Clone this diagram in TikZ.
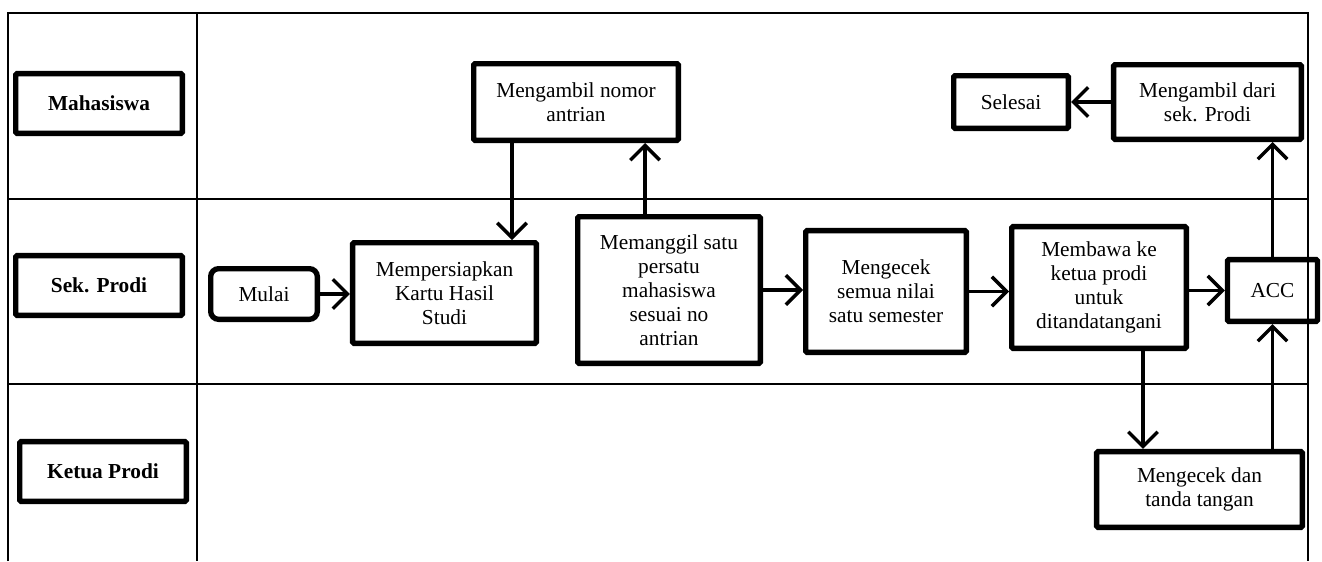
\documentclass[tikz,border=0pt]{standalone}
\usepackage{fontspec}
\setmainfont{Liberation Serif}
\usetikzlibrary{arrows.meta,positioning}

\begin{document}
\begin{tikzpicture}[x=0.75pt,y=-0.75pt,line width=2.6pt,>={Straight Barb[length=11pt,width=22pt]}]
    \tikzstyle{every node}=[font=\fontsize{16}{18}\selectfont]
    \tikzstyle{lane}=[draw,line width=4pt,rounded corners=1pt,inner sep=0pt,font=\bfseries\fontsize{16}{18}\selectfont,minimum width=125pt,minimum height=44.8pt]
    \tikzstyle{act}=[draw,line width=4pt,rounded corners=1pt,inner sep=0pt,align=center]
    \tikzstyle{frame}=[line width=1.7pt]

    \useasboundingbox (0,0) rectangle (1322,561);
    % swimlanes
    \draw[frame] (8,561) -- (8,13) -- (1308,13) -- (1308,561);
    \draw[frame] (197,13) -- (197,561);
    \draw[frame] (8,199) -- (1308,199) (8,384) -- (1308,384);

    \node[lane] (mhs)     at (99,103.5)  {Mahasiswa};
    \node[lane] (sek)     at (99,285.5)  {Sek. Prodi};
    \node[lane] (kaprodi) at (103,471.5) {Ketua Prodi};

    \node[act,rounded corners=6pt,minimum width=80pt,minimum height=38pt] (mulai) at (264,294) {Mulai};
    \node[act,minimum width=137.8pt,minimum height=75.5pt] (siap) at (444.5,293) {Mempersiapkan\\Kartu Hasil\\Studi};
    \node[act,minimum width=153.5pt,minimum height=57.5pt] (nomor) at (576,102) {Mengambil nomor\\antrian};
    \node[act,minimum width=137pt,minimum height=110pt] (panggil) at (669,290) {Memanggil satu\\persatu\\mahasiswa\\sesuai no\\antrian};
    \node[act,minimum width=120.5pt,minimum height=91.3pt] (cek) at (886,291.5) {Mengecek\\semua nilai\\satu semester};
    \node[act,minimum width=131pt,minimum height=91.3pt] (bawa) at (1099,287.5) {Membawa ke\\ketua prodi\\untuk\\ditandatangani};
    \node[act,minimum width=67.5pt,minimum height=46.3pt] (acc) at (1272.5,290.5) {ACC};
    \node[act,minimum width=140.8pt,minimum height=56pt] (ambil) at (1207.5,102) {Mengambil dari\\sek. Prodi};
    \node[act,minimum width=86pt,minimum height=39.5pt] (selesai) at (1011,102) {Selesai};
    \node[act,minimum width=154.3pt,minimum height=56.8pt] (ttd) at (1199.5,489.5) {Mengecek dan\\tanda tangan};

    \path[->]
    (mulai.east) edge (mulai.east -| siap.west)
    ([xshift=-48pt]nomor.south) edge ([xshift=-48pt]nomor.south |- siap.north)
    ([xshift=-18pt]panggil.north) edge ([xshift=-18pt]panggil.north |- nomor.south)
    (panggil.east) edge (panggil.east -| cek.west)
    (cek.east) edge (cek.east -| bawa.west)
    (bawa.east |- acc.west) edge (acc.west)
    ([xshift=33pt]bawa.south) edge ([xshift=33pt]bawa.south |- ttd.north)
    (ttd.north -| acc.south) edge (acc.south)
    (acc.north) edge (acc.north |- ambil.south)
    (ambil.west) edge (ambil.west -| selesai.east);
\end{tikzpicture}
\end{document}
